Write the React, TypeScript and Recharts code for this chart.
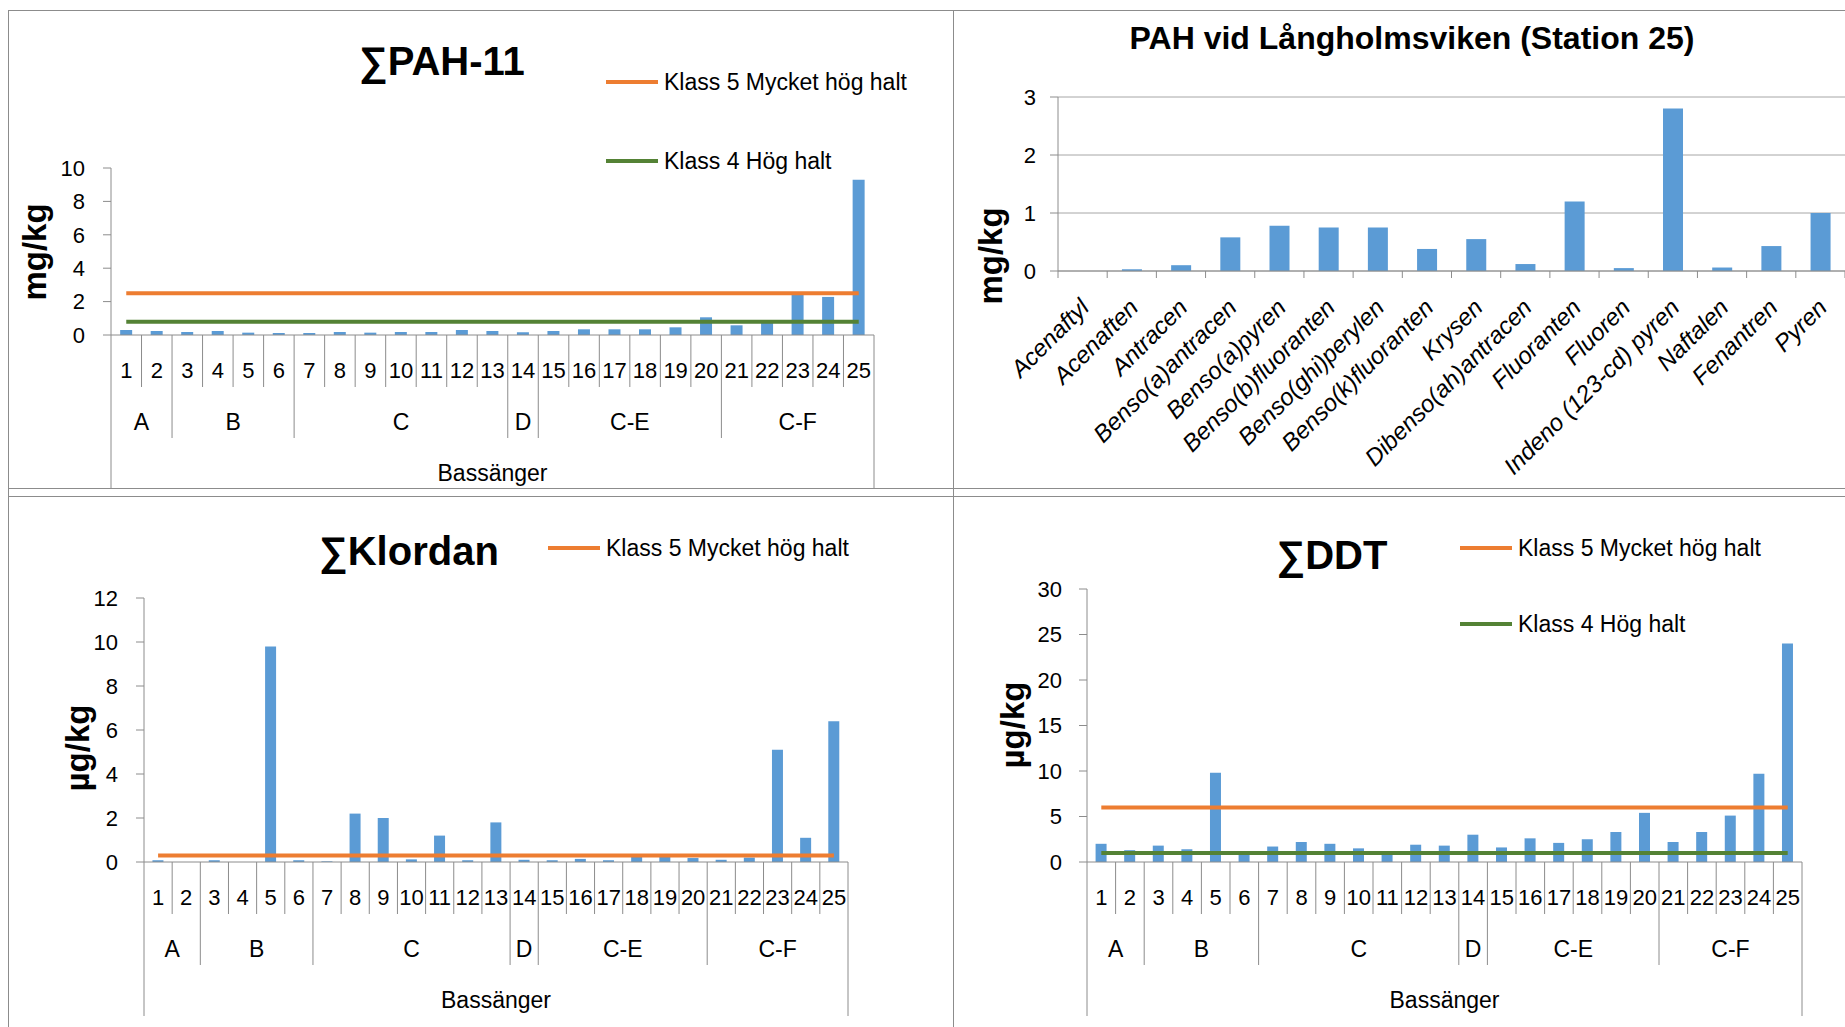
import React from 'react';
import { ComposedChart, Bar, Line, XAxis, YAxis, CartesianGrid } from 'recharts';

const FONT = '"Liberation Sans", Arial, sans-serif';
const BLUE = '#5B9BD5';
const ORANGE = '#ED7D31';
const GREEN = '#548235';
const AXIS = '#8C8C8C';
const GRID = '#A6A6A6';

// shared category axis for the three basin charts
const BASINS = ['1', '2', '3', '4', '5', '6', '7', '8', '9', '10', '11', '12', '13', '14', '15', '16', '17', '18', '19', '20', '21', '22', '23', '24', '25'];
const GROUP_NAMES = ['A', 'B', 'C', 'D', 'C-E', 'C-F'];
const GROUP_SIZES = [2, 4, 7, 1, 6, 5];
const X_TITLE = 'Bassänger';

const LEGEND_K5 = 'Klass 5 Mycket hög halt';
const LEGEND_K4 = 'Klass 4 Hög halt';

// ∑PAH-11 (mg/kg)
const PAH11_VALUES = [0.3, 0.24, 0.18, 0.24, 0.14, 0.12, 0.12, 0.18, 0.14, 0.18, 0.18, 0.3, 0.24, 0.16, 0.24, 0.34, 0.34, 0.34, 0.46, 1.06, 0.58, 0.75, 2.4, 2.28, 9.3];
const PAH11_KLASS5 = 2.5;
const PAH11_KLASS4 = 0.8;
const PAH11_TICKS = [0, 2, 4, 6, 8, 10];

// ∑Klordan (µg/kg)
const KLORDAN_VALUES = [0.08, 0, 0.08, 0, 9.8, 0.08, 0.03, 2.2, 2.0, 0.12, 1.2, 0.08, 1.8, 0.1, 0.08, 0.14, 0.08, 0.28, 0.25, 0.18, 0.1, 0.2, 5.1, 1.1, 6.4];
const KLORDAN_KLASS5 = 0.3;
const KLORDAN_TICKS = [0, 2, 4, 6, 8, 10, 12];

// ∑DDT (µg/kg)
const DDT_VALUES = [2.0, 1.3, 1.8, 1.4, 9.8, 0.9, 1.7, 2.2, 2.0, 1.5, 1.1, 1.9, 1.8, 3.0, 1.6, 2.6, 2.1, 2.5, 3.3, 5.4, 2.2, 3.3, 5.1, 9.7, 24];
const DDT_KLASS5 = 6;
const DDT_KLASS4 = 1;
const DDT_TICKS = [0, 5, 10, 15, 20, 25, 30];

// PAH at station 25 (mg/kg)
const COMPOUNDS = ['Acenaftyl', 'Acenaften', 'Antracen', 'Benso(a)antracen', 'Benso(a)pyren', 'Benso(b)fluoranten', 'Benso(ghi)perylen', 'Benso(k)fluoranten', 'Krysen', 'Dibenso(ah)antracen', 'Fluoranten', 'Fluoren', 'Indeno (123-cd) pyren', 'Naftalen', 'Fenantren', 'Pyren'];
const STATION25_VALUES = [0, 0.03, 0.1, 0.58, 0.78, 0.75, 0.75, 0.38, 0.55, 0.12, 1.2, 0.05, 2.8, 0.06, 0.43, 1.0];
const STATION25_TICKS = [0, 1, 2, 3];

const GROUP_STARTS = GROUP_SIZES.map((_, i) => GROUP_SIZES.slice(0, i).reduce((a, b) => a + b, 0));

// offsets below the x axis for the multi level labels
const NUM_Y = 35;
const ROW_B = 52;
const GRP_Y = 87;
const GRP_B = 103;
const TITLE_Y = 138;
const OUTER_B = 154;

const BasinTick = (props: any) => {
  const { x, y, payload, index, bw, n } = props;
  const left = x - bw / 2;
  const gi = GROUP_STARTS.indexOf(index);
  const bottom = index === 0 ? OUTER_B : gi >= 0 ? GRP_B : ROW_B;
  return (
    <g fontFamily={FONT} fill="#000">
      <line x1={left} x2={left} y1={y} y2={y + bottom} stroke={AXIS} />
      {index === n - 1 && <line x1={x + bw / 2} x2={x + bw / 2} y1={y} y2={y + OUTER_B} stroke={AXIS} />}
      <text x={x} y={y + NUM_Y} textAnchor="middle" dy="0.35em" fontSize={22}>{payload.value}</text>
      {gi >= 0 && (
        <text x={left + (GROUP_SIZES[gi] * bw) / 2} y={y + GRP_Y} textAnchor="middle" dy="0.35em" fontSize={23}>
          {GROUP_NAMES[gi]}
        </text>
      )}
      {index === 0 && (
        <text x={left + (n * bw) / 2} y={y + TITLE_Y} textAnchor="middle" dy="0.35em" fontSize={23}>
          {X_TITLE}
        </text>
      )}
    </g>
  );
};

const CompoundTick = (props: any) => {
  const { x, y, payload, index, bw, n } = props;
  const ax = x + 8;
  const ay = y + 38;
  return (
    <g>
      <line x1={x - bw / 2} x2={x - bw / 2} y1={y} y2={y + 7} stroke={AXIS} />
      {index === n - 1 && <line x1={x + bw / 2} x2={x + bw / 2} y1={y} y2={y + 7} stroke={AXIS} />}
      <text x={ax} y={ay} textAnchor="end" transform={`rotate(-45 ${ax} ${ay})`} fontSize={24} fontStyle="italic" fontFamily={FONT} fill="#000">
        {payload.value}
      </text>
    </g>
  );
};

type Box = { L: number; T: number; W: number; H: number };
type Plot = { x1: number; x2: number; y1: number; y2: number };

const chartGeometry = (box: Box, plot: Plot) => ({
  margin: { top: plot.y1 - box.T, right: box.L + box.W - plot.x2, bottom: 0, left: 0 },
  yWidth: plot.x1 - box.L,
  xHeight: box.T + box.H - plot.y2,
  bw: (plot.x2 - plot.x1),
});

const BasinChart: React.FC<{
  box: Box; plot: Plot; values: number[]; klass5: number; klass4?: number; ticks: number[]; tickMargin: number;
}> = ({ box, plot, values, klass5, klass4, ticks, tickMargin }) => {
  const g = chartGeometry(box, plot);
  const n = BASINS.length;
  const bw = g.bw / n;
  const rows = BASINS.map((b, i) => ({ name: b, value: values[i], klass5, klass4 }));
  return (
    <div style={{ position: 'absolute', left: box.L, top: box.T, width: box.W, height: box.H }}>
      <ComposedChart width={box.W} height={box.H} data={rows} margin={g.margin} barCategoryGap="30%">
        <XAxis
          dataKey="name"
          interval={0}
          tickSize={0}
          tickMargin={0}
          height={g.xHeight}
          stroke={AXIS}
          tick={(p: any) => <BasinTick {...p} bw={bw} n={n} />}
        />
        <YAxis
          width={g.yWidth}
          domain={[0, ticks[ticks.length - 1]]}
          ticks={ticks}
          interval={0}
          tickSize={8}
          tickMargin={tickMargin}
          stroke={AXIS}
          tick={{ fontSize: 22, fill: '#000', fontFamily: FONT }}
        />
        <Bar dataKey="value" fill={BLUE} isAnimationActive={false} />
        <Line dataKey="klass5" stroke={ORANGE} strokeWidth={4} dot={false} activeDot={false} isAnimationActive={false} />
        {klass4 !== undefined && (
          <Line dataKey="klass4" stroke={GREEN} strokeWidth={4} dot={false} activeDot={false} isAnimationActive={false} />
        )}
      </ComposedChart>
    </div>
  );
};

const StationChart: React.FC<{ box: Box; plot: Plot }> = ({ box, plot }) => {
  const g = chartGeometry(box, plot);
  const n = COMPOUNDS.length;
  const bw = g.bw / n;
  const rows = COMPOUNDS.map((c, i) => ({ name: c, value: STATION25_VALUES[i] }));
  return (
    <div style={{ position: 'absolute', left: box.L, top: box.T, width: box.W, height: box.H }}>
      <ComposedChart width={box.W} height={box.H} data={rows} margin={g.margin} barCategoryGap="30%">
        <CartesianGrid vertical={false} stroke={GRID} />
        <XAxis
          dataKey="name"
          interval={0}
          tickSize={0}
          tickMargin={0}
          height={g.xHeight}
          stroke={AXIS}
          tick={(p: any) => <CompoundTick {...p} bw={bw} n={n} />}
        />
        <YAxis
          width={g.yWidth}
          domain={[0, 3]}
          ticks={STATION25_TICKS}
          interval={0}
          tickSize={8}
          tickMargin={14}
          stroke={AXIS}
          tick={{ fontSize: 22, fill: '#000', fontFamily: FONT }}
        />
        <Bar dataKey="value" fill={BLUE} isAnimationActive={false} />
      </ComposedChart>
    </div>
  );
};

const Title: React.FC<{ x: number; y: number; size: number; text: string }> = ({ x, y, size, text }) => (
  <div style={{ position: 'absolute', left: x, top: y, transform: 'translate(-50%, -50%)', fontSize: size, fontWeight: 'bold', lineHeight: 1, whiteSpace: 'nowrap' }}>
    {text}
  </div>
);

const YLabel: React.FC<{ x: number; y: number; text: string }> = ({ x, y, text }) => (
  <div style={{ position: 'absolute', left: x, top: y, transform: 'translate(-50%, -50%) rotate(-90deg)', fontSize: 33, fontWeight: 'bold', lineHeight: 1, whiteSpace: 'nowrap' }}>
    {text}
  </div>
);

const LegendItem: React.FC<{ x: number; y: number; textX: number; color: string; text: string }> = ({ x, y, textX, color, text }) => (
  <>
    <div style={{ position: 'absolute', left: x, top: y - 2, width: 52, height: 4, background: color }} />
    <div style={{ position: 'absolute', left: textX, top: y, transform: 'translateY(-50%)', fontSize: 23, lineHeight: 1, whiteSpace: 'nowrap' }}>{text}</div>
  </>
);

const HLine = ({ x, y, w }: { x: number; y: number; w: number }) => (
  <div style={{ position: 'absolute', left: x, top: y, width: w, height: 1, background: AXIS }} />
);
const VLine = ({ x, y, h }: { x: number; y: number; h: number }) => (
  <div style={{ position: 'absolute', left: x, top: y, width: 1, height: h, background: AXIS }} />
);

export default function App() {
  return (
    <div style={{ position: 'absolute', left: 0, top: 0, width: 1845, height: 1027, background: '#fff', overflow: 'hidden', fontFamily: FONT, color: '#000' }}>
      {/* panel frames */}
      <HLine x={8} y={10} w={1837} />
      <HLine x={8} y={488} w={1837} />
      <HLine x={8} y={496} w={1837} />
      <VLine x={8} y={10} h={1017} />
      <VLine x={953} y={10} h={1017} />

      {/* top left: PAH-11 */}
      <BasinChart
        box={{ L: 9, T: 11, W: 943, H: 477 }}
        plot={{ x1: 111, x2: 874, y1: 168, y2: 335 }}
        values={PAH11_VALUES}
        klass5={PAH11_KLASS5}
        klass4={PAH11_KLASS4}
        ticks={PAH11_TICKS}
        tickMargin={18}
      />
      <Title x={442} y={61} size={40} text="∑PAH-11" />
      <YLabel x={34} y={252} text="mg/kg" />
      <LegendItem x={606} y={82} textX={664} color={ORANGE} text={LEGEND_K5} />
      <LegendItem x={606} y={161} textX={664} color={GREEN} text={LEGEND_K4} />

      {/* top right: PAH at station 25 */}
      <StationChart box={{ L: 954, T: 11, W: 891, H: 477 }} plot={{ x1: 1058, x2: 1845, y1: 97, y2: 271 }} />
      <Title x={1412} y={38} size={32} text="PAH vid Långholmsviken (Station 25)" />
      <YLabel x={990} y={256} text="mg/kg" />

      {/* bottom left: Klordan */}
      <BasinChart
        box={{ L: 9, T: 497, W: 943, H: 530 }}
        plot={{ x1: 144, x2: 848, y1: 598, y2: 862 }}
        values={KLORDAN_VALUES}
        klass5={KLORDAN_KLASS5}
        ticks={KLORDAN_TICKS}
        tickMargin={18}
      />
      <Title x={409} y={551} size={40} text="∑Klordan" />
      <YLabel x={77} y={748} text="µg/kg" />
      <LegendItem x={548} y={548} textX={606} color={ORANGE} text={LEGEND_K5} />

      {/* bottom right: DDT */}
      <BasinChart
        box={{ L: 954, T: 497, W: 891, H: 530 }}
        plot={{ x1: 1087, x2: 1802, y1: 589, y2: 862 }}
        values={DDT_VALUES}
        klass5={DDT_KLASS5}
        klass4={DDT_KLASS4}
        ticks={DDT_TICKS}
        tickMargin={17}
      />
      <Title x={1332} y={555} size={40} text="∑DDT" />
      <YLabel x={1012} y={725} text="µg/kg" />
      <LegendItem x={1460} y={548} textX={1518} color={ORANGE} text={LEGEND_K5} />
      <LegendItem x={1460} y={624} textX={1518} color={GREEN} text={LEGEND_K4} />
    </div>
  );
}
